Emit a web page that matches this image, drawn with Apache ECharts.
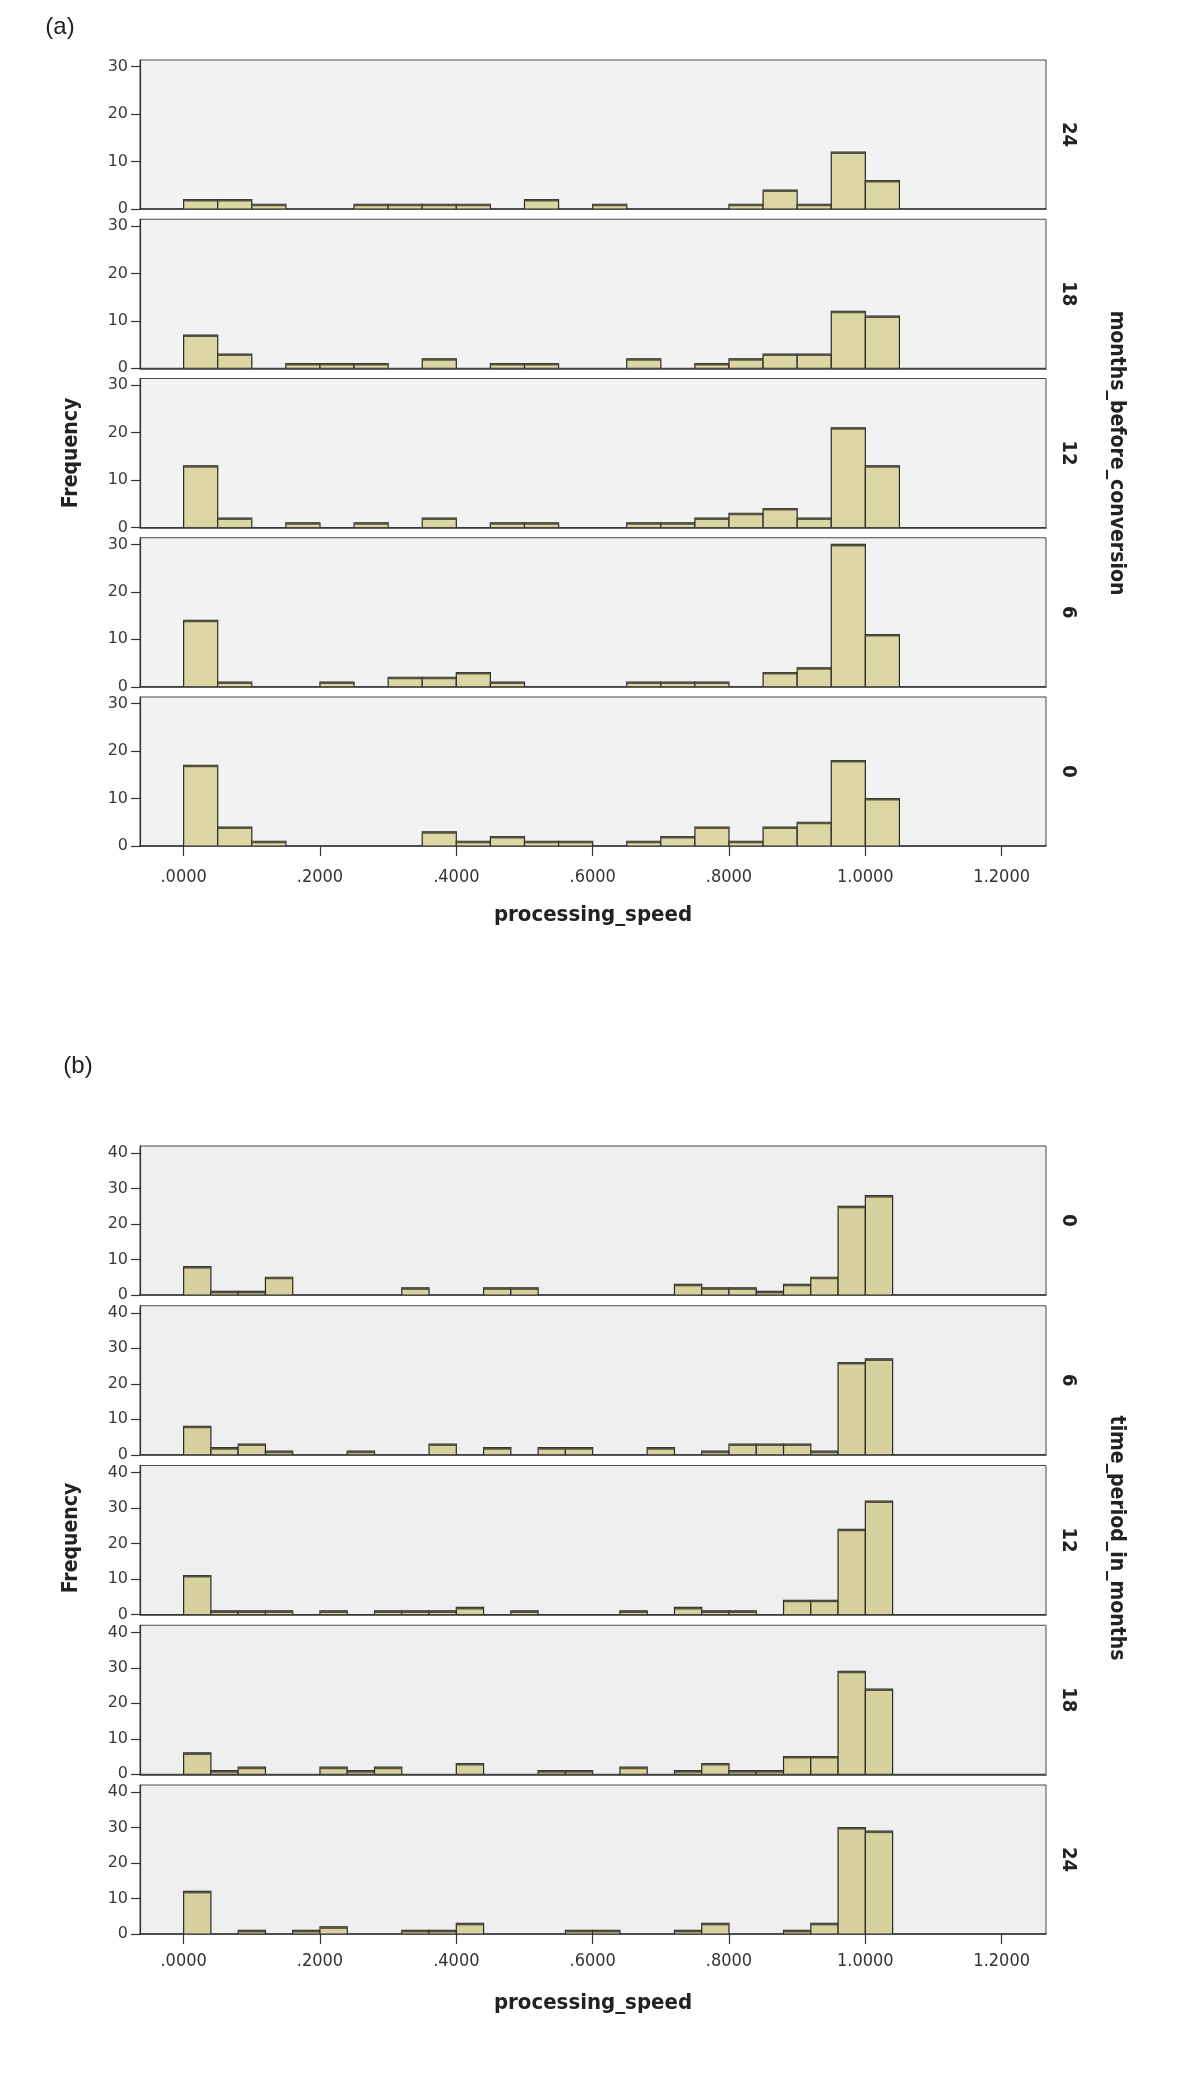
<!DOCTYPE html>
<html><head><meta charset="utf-8">
<script src="https://cdn.jsdelivr.net/npm/echarts@6/dist/echarts.min.js"></script>
<style>html,body{margin:0;padding:0;background:#fff}#chart{width:1200px;height:2088px}</style>
</head><body><div id="chart"></div>
<script>
// ---------- data ----------
const xTickValues = [0, 0.2, 0.4, 0.6, 0.8, 1.0, 1.2];
const yTicksA = [0, 10, 20, 30];
const yTicksB = [0, 10, 20, 30, 40];
const binWidthA = 0.05;   // panel (a) histogram bin width
const binWidthB = 0.04;   // panel (b) histogram bin width

// (a) months_before_conversion
const groupLabelsA = ['24', '18', '12', '6', '0'];
const countsA24 = [2,2,1,0,0,1,1,1,1,0,2,0,1,0,0,0,1,4,1,12,6];
const countsA18 = [7,3,0,1,1,1,0,2,0,1,1,0,0,2,0,1,2,3,3,12,11];
const countsA12 = [13,2,0,1,0,1,0,2,0,1,1,0,0,1,1,2,3,4,2,21,13];
const countsA6  = [14,1,0,0,1,0,2,2,3,1,0,0,0,1,1,1,0,3,4,30,11];
const countsA0  = [17,4,1,0,0,0,0,3,1,2,1,1,0,1,2,4,1,4,5,18,10];

// (b) time_period_in_months
const groupLabelsB = ['0', '6', '12', '18', '24'];
const countsB0  = [8,1,1,5,0,0,0,0,2,0,0,2,2,0,0,0,0,0,3,2,2,1,3,5,25,28];
const countsB6  = [8,2,3,1,0,0,1,0,0,3,0,2,0,2,2,0,0,2,0,1,3,3,3,1,26,27];
const countsB12 = [11,1,1,1,0,1,0,1,1,1,2,0,1,0,0,0,1,0,2,1,1,0,4,4,24,32];
const countsB18 = [6,1,2,0,0,2,1,2,0,0,3,0,0,1,1,0,2,0,1,3,1,1,5,5,29,24];
const countsB24 = [12,0,1,0,1,2,0,0,1,1,3,0,0,0,1,1,0,0,1,3,0,0,1,3,30,29];

const xAxisTitle = 'processing_speed';
const yAxisTitle = 'Frequency';
const groupTitleA = 'months_before_conversion';
const groupTitleB = 'time_period_in_months';

// ---------- layout ----------
const GRID_LEFT = 140, GRID_W = 906, GRID_H = 149;
const X_MIN = -0.064, X_MAX = 1.265;
const condensed = '"DejaVu Sans Condensed", "Liberation Sans Narrow", "DejaVu Sans", sans-serif';

const panelDefs = [];
[countsA24, countsA18, countsA12, countsA6, countsA0].forEach((c, i) => panelDefs.push({
  counts: c, w: binWidthA, label: groupLabelsA[i], top: 60 + i * 159.25, yMax: 31.4,
  yTicks: yTicksA, isBottom: i === 4, fill: '#dcd6a5', bg: '#f2f2f2', labelMargin: 22
}));
[countsB0, countsB6, countsB12, countsB18, countsB24].forEach((c, i) => panelDefs.push({
  counts: c, w: binWidthB, label: groupLabelsB[i], top: 1146 + i * 159.75, yMax: 42,
  yTicks: yTicksB, isBottom: i === 4, fill: '#d7d29d', bg: '#efefef', labelMargin: 18
}));

function fmtX(v) {
  const s = Number(v).toFixed(4);
  return s.startsWith('0.') ? s.slice(1) : s;
}

const grids = [], xAxes = [], yAxes = [], series = [], graphics = [];
panelDefs.forEach((p, k) => {
  grids.push({ left: GRID_LEFT, top: p.top, width: GRID_W, height: GRID_H, show: true,
    backgroundColor: p.bg, borderColor: '#4a4a4a', borderWidth: 1, containLabel: false });
  xAxes.push({
    type: 'value', gridIndex: k, min: X_MIN, max: X_MAX,
    axisLine: { show: true, onZero: false, lineStyle: { color: '#333', width: 1.5 } },
    axisTick: { show: p.isBottom, customValues: xTickValues, length: 10, lineStyle: { color: '#333', width: 1.2 } },
    axisLabel: { show: p.isBottom, customValues: xTickValues, formatter: fmtX, fontSize: 18,
      color: '#333', margin: p.labelMargin, fontFamily: '"Liberation Sans Narrow", "DejaVu Sans Condensed", sans-serif' },
    splitLine: { show: false },
    name: p.isBottom ? xAxisTitle : '', nameLocation: 'middle', nameGap: 58,
    nameTextStyle: { fontSize: 22, fontWeight: 'bold', color: '#222', fontFamily: condensed }
  });
  yAxes.push({
    type: 'value', gridIndex: k, min: 0, max: p.yMax, interval: 10,
    axisLine: { show: true, onZero: false, lineStyle: { color: '#333', width: 1.2 } },
    axisTick: { show: true, customValues: p.yTicks, length: 9, lineStyle: { color: '#333', width: 1.2 } },
    axisLabel: { show: true, customValues: p.yTicks, fontSize: 16, color: '#3a3a3a', margin: 12,
      fontFamily: '"DejaVu Sans", sans-serif' },
    splitLine: { show: false }
  });
  const data = p.counts.map((c, i) => [i * p.w, (i + 1) * p.w, c]);
  const fill = p.fill;
  series.push({
    type: 'custom', xAxisIndex: k, yAxisIndex: k, data: data,
    encode: { x: [0, 1], y: 2 }, silent: true, clip: true,
    renderItem: function (params, api) {
      const x0 = api.value(0), x1 = api.value(1), y = api.value(2);
      if (!y) return null;
      const a = api.coord([x0, 0]);
      const b = api.coord([x1, y]);
      return {
        type: 'group', children: [
          { type: 'rect', shape: { x: a[0], y: b[1], width: b[0] - a[0], height: a[1] - b[1] },
            style: { fill: fill, stroke: '#2a2a2a', lineWidth: 1.2 } },
          { type: 'line', shape: { x1: a[0], y1: b[1] + 1, x2: b[0], y2: b[1] + 1 },
            style: { stroke: '#55533f', lineWidth: 2 } }
        ]
      };
    }
  });
  graphics.push({ type: 'text', x: 1068, y: p.top + GRID_H / 2, rotation: -Math.PI / 2,
    style: { text: p.label, fontSize: 20, fontWeight: 'bold', fill: '#222', fontFamily: condensed,
      textAlign: 'center', textVerticalAlign: 'middle' } });
});

// Panel titles and shared labels
function txt(x, y, text, size, weight, rot, family) {
  return { type: 'text', x: x, y: y, rotation: rot || 0,
    style: { text: text, fontSize: size, fontWeight: weight || 'normal', fill: '#222',
      fontFamily: family || condensed, textAlign: 'center', textVerticalAlign: 'middle' } };
}
graphics.push(txt(60, 27, '(a)', 24, 'normal', 0, '"Liberation Sans", Arial, sans-serif'));
graphics.push(txt(78, 1066, '(b)', 24, 'normal', 0, '"Liberation Sans", Arial, sans-serif'));
graphics.push(txt(72, 453, yAxisTitle, 21, 'bold', Math.PI / 2));
graphics.push(txt(72, 1538, yAxisTitle, 21, 'bold', Math.PI / 2));
graphics.push(txt(1116, 453, groupTitleA, 21, 'bold', -Math.PI / 2));
graphics.push(txt(1116, 1538, groupTitleB, 21, 'bold', -Math.PI / 2));

const chart = echarts.init(document.getElementById('chart'), null, { renderer: 'canvas' });
chart.setOption({
  animation: false,
  backgroundColor: '#ffffff',
  grid: grids, xAxis: xAxes, yAxis: yAxes, series: series,
  graphic: { elements: graphics }
});
</script>
</body></html>
